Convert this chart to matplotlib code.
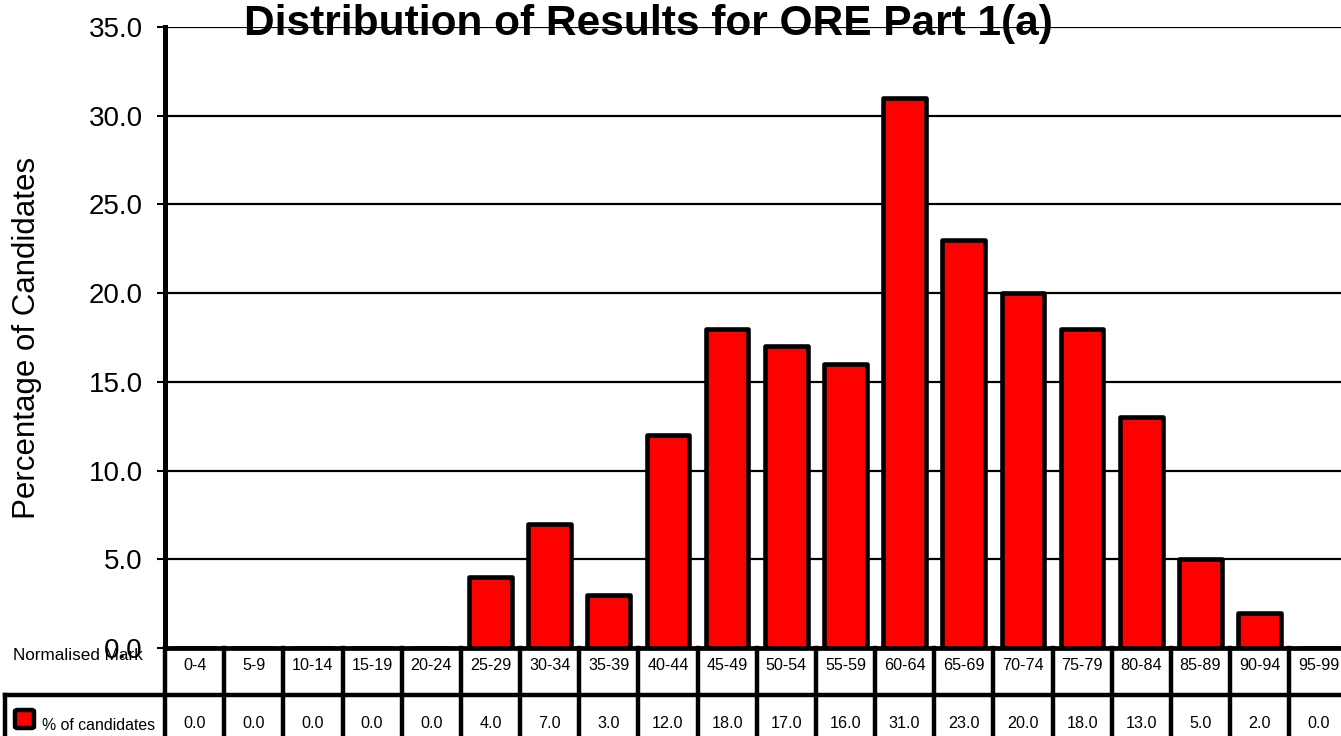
import matplotlib
matplotlib.use("Agg")
import matplotlib.pyplot as plt
from matplotlib.transforms import blended_transform_factory
from matplotlib.patches import FancyBboxPatch
from matplotlib.lines import Line2D

plt.rcParams['font.family'] = ['Liberation Sans', 'DejaVu Sans']

# ---- data ----
categories = ["0-4", "5-9", "10-14", "15-19", "20-24", "25-29", "30-34", "35-39",
              "40-44", "45-49", "50-54", "55-59", "60-64", "65-69", "70-74", "75-79",
              "80-84", "85-89", "90-94", "95-99"]
percent = [0.0, 0.0, 0.0, 0.0, 0.0, 4.0, 7.0, 3.0, 12.0, 18.0, 17.0, 16.0,
           31.0, 23.0, 20.0, 18.0, 13.0, 5.0, 2.0, 0.0]
yticks = [0, 5, 10, 15, 20, 25, 30, 35]
title = "Distribution of Results for ORE Part 1(a)"
ylabel = "Percentage of Candidates"
row_header = "Normalised Mark"
series_name = "% of candidates"

W, H = 1341, 736
fig = plt.figure(figsize=(W / 100, H / 100), dpi=100)
fig.patch.set_facecolor('white')

def fx(px):
    return px / W

def fy(py):
    return 1 - py / H

ax_left, ax_right, ax_top, ax_bottom = 165, 1348.4, 27, 648
ax = fig.add_axes([fx(ax_left), fy(ax_bottom), fx(ax_right - ax_left), (ax_bottom - ax_top) / H])

x = list(range(len(categories)))
bars = ax.bar(x, percent, width=0.72, color='#FF0000', edgecolor='black',
              linewidth=3.3, zorder=3)
for b in bars:
    b.set_joinstyle('round')

ax.set_xlim(-0.5, len(categories) - 0.5)
ax.set_ylim(0, 35)
ax.set_yticks(yticks)
ax.set_yticklabels([f"{v:.1f}" for v in yticks], fontsize=20)
ax.set_xticks([])
ax.tick_params(axis='y', direction='out', length=6, width=1.5, pad=10, colors='black')

ax.yaxis.grid(True, color='black', linewidth=1.6, zorder=0)
ax.set_axisbelow(True)
for s in ['top', 'right']:
    ax.spines[s].set_visible(False)
ax.spines['left'].set_linewidth(3.6)
ax.spines['bottom'].set_linewidth(3.4)
ax.spines['left'].set_zorder(4)
ax.spines['bottom'].set_zorder(4)

ax.set_ylabel(ylabel, fontsize=22.5)
ax.yaxis.set_label_coords((42 - ax_left) / (ax_right - ax_left), 0.5)

# title
fig.text(fx(648), fy(35), title, ha='center', va='baseline', fontsize=30.5,
         fontweight='bold')

# ---- data table under the axis ----
tr = blended_transform_factory(ax.transData, fig.transFigure)
lw_t = 3.2
y_top, y_mid, y_bot = fy(648), fy(695), fy(736)
for i in range(len(categories) + 1):
    fig.add_artist(Line2D([i - 0.5, i - 0.5], [y_top, y_bot], transform=tr,
                          color='black', linewidth=lw_t, clip_on=False))
# horizontal line between rows (extends under legend cell)
fig.add_artist(Line2D([fx(5), fx(ax_right)], [y_mid, y_mid], transform=fig.transFigure,
                      color='black', linewidth=lw_t, clip_on=False))
fig.add_artist(Line2D([fx(5), fx(5)], [y_mid, y_bot], transform=fig.transFigure,
                      color='black', linewidth=lw_t, clip_on=False))

for i, (c, v) in enumerate(zip(categories, percent)):
    fig.text(i, fy(665.5), c, transform=tr, ha='center', va='center', fontsize=11.6)
    fig.text(i, fy(723.5), f"{v:.1f}", transform=tr, ha='center', va='center', fontsize=11.6)

fig.text(fx(13), fy(656), row_header, ha='left', va='center', fontsize=12.3)
fig.text(fx(42), fy(725), series_name, ha='left', va='center', fontsize=11.4)
legend_box = FancyBboxPatch((fx(15), fy(728)), fx(19), 18 / H,
                            boxstyle="round,pad=0,rounding_size=0.002",
                            transform=fig.transFigure, facecolor='#FF0000',
                            edgecolor='black', linewidth=3.2)
fig.add_artist(legend_box)

fig.savefig("out.png", dpi=100, facecolor='white')
